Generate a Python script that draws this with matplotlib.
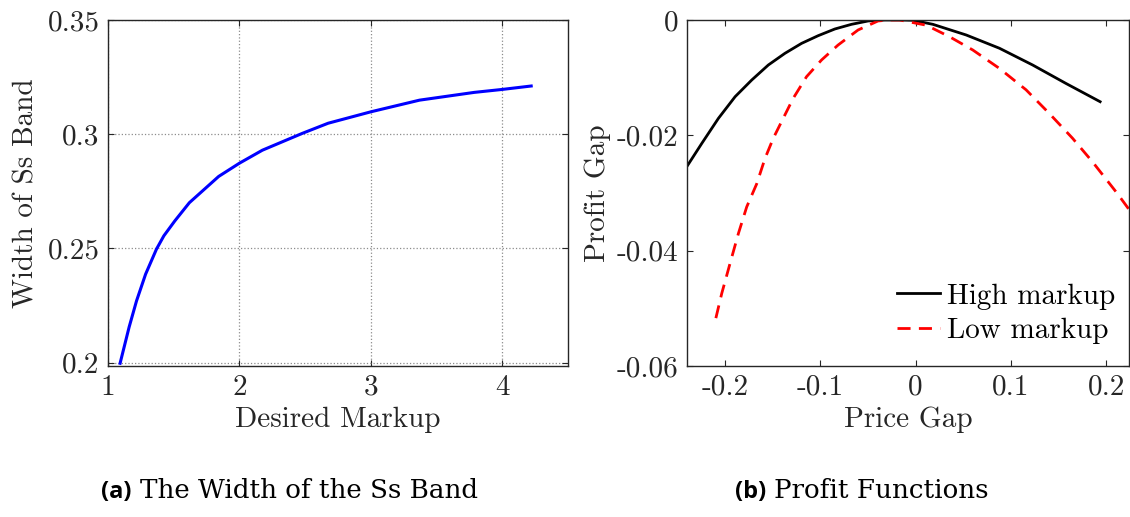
import matplotlib
matplotlib.use("Agg")
import matplotlib.pyplot as plt

# ---- Data: panel (a) ----
markup = [1.092, 1.161, 1.217, 1.286, 1.369, 1.425, 1.508, 1.619, 1.842, 2.0, 2.175,
          2.48, 2.675, 3.0, 3.37, 3.786, 4.0, 4.22]
width_ss = [0.1997, 0.2156, 0.227, 0.2387, 0.2497, 0.2555, 0.262, 0.270, 0.2815, 0.2873,
            0.293, 0.3004, 0.3048, 0.3098, 0.3149, 0.3183, 0.3196, 0.3211]

# ---- Data: panel (b) ----
gap_high = [-0.2405, -0.2244, -0.207, -0.1895, -0.172, -0.1546, -0.1372, -0.1197, -0.1023,
            -0.0848, -0.0673, -0.0499, -0.0325, -0.015, -0.0028, 0.0181, 0.0531, 0.088,
            0.1228, 0.1578, 0.1937]
profit_high = [-0.0255, -0.02138, -0.01705, -0.0133, -0.0104, -0.0078, -0.00578, -0.00405,
               -0.00272, -0.00156, -0.00075, -0.00017, 0.0, 0.0, -0.00005, -0.00075, -0.0026,
               -0.0049, -0.0078, -0.011, -0.01417]
gap_low = [-0.2097, -0.2035, -0.1948, -0.186, -0.1773, -0.1668, -0.1581, -0.1494, -0.139,
           -0.1285, -0.1145, -0.0988, -0.0814, -0.0604, -0.0395, -0.028, -0.0168, 0.0112,
           0.0356, 0.06, 0.088, 0.1159, 0.1403, 0.1647, 0.1857, 0.2118, 0.23]
profit_low = [-0.0517, -0.0474, -0.0422, -0.037, -0.0324, -0.0284, -0.024, -0.0205, -0.01705,
              -0.01358, -0.00983, -0.00694, -0.00434, -0.00173, -0.00017, 0.0, 0.0, -0.0009,
              -0.0029, -0.0052, -0.0084, -0.0121, -0.0162, -0.0205, -0.0246, -0.0301, -0.0342]

xticks_a = [1, 2, 3, 4]
xticklabels_a = ["1", "2", "3", "4"]
yticks_a = [0.2, 0.25, 0.3, 0.35]
yticklabels_a = ["0.2", "0.25", "0.3", "0.35"]
xticks_b = [-0.2, -0.1, 0.0, 0.1, 0.2]
xticklabels_b = ["-0.2", "-0.1", "0", "0.1", "0.2"]
yticks_b = [-0.06, -0.04, -0.02, 0.0]
yticklabels_b = ["-0.06", "-0.04", "-0.02", "0"]

plt.rcParams["font.family"] = ["cmr10", "DejaVu Serif"]
plt.rcParams["axes.formatter.use_mathtext"] = True
plt.rcParams["axes.unicode_minus"] = False

FS = 21
fig = plt.figure(figsize=(11.3, 5.17), dpi=100)
W, H = 1130, 517

def px_axes(x0, x1, ytop, ybot):
    return [x0 / W, 1 - ybot / H, (x1 - x0) / W, (ybot - ytop) / H]

ax1 = fig.add_axes(px_axes(108, 568, 20, 366))
ax2 = fig.add_axes(px_axes(687, 1129, 20, 366))

for ax in (ax1, ax2):
    for s in ax.spines.values():
        s.set_linewidth(1.0)
        s.set_color("#262626")
    ax.tick_params(direction="in", top=True, right=True, length=4.5, width=0.8,
                   colors="#262626", labelsize=FS, labelcolor="#262626", pad=6)

# Panel (a)
ax1.plot(markup, width_ss, color="#0000FF", lw=2.2)
ax1.set_xlim(1, 4.5)
ax1.set_ylim(0.1985, 0.35)
ax1.set_xticks(xticks_a)
ax1.set_xticklabels(xticklabels_a)
ax1.set_yticks(yticks_a)
ax1.set_yticklabels(yticklabels_a)
ax1.grid(True, linestyle=":", color="#8c8c8c", linewidth=0.9)
ax1.set_axisbelow(True)
ax1.set_xlabel("Desired Markup", fontsize=FS, color="#262626", labelpad=4)
ax1.set_ylabel("Width of Ss Band", fontsize=FS, color="#262626", labelpad=6)

# Panel (b)
ax2.plot(gap_high, profit_high, color="black", lw=2.0, label="High markup")
ax2.plot(gap_low, profit_low, color="#FF0000", lw=2.0, ls=(0, (4.7, 3.0)), label="Low markup")
ax2.set_xlim(-0.24, 0.224)
ax2.set_ylim(-0.06, 0.0)
ax2.set_xticks(xticks_b)
ax2.set_xticklabels(xticklabels_b)
ax2.set_yticks(yticks_b)
ax2.set_yticklabels(yticklabels_b)
ax2.set_xlabel("Price Gap", fontsize=FS, color="#262626", labelpad=4)
ax2.set_ylabel("Profit Gap", fontsize=FS, color="#262626", labelpad=4)
leg = ax2.legend(loc="lower right", bbox_to_anchor=(1.018, 0.0), frameon=False,
                 fontsize=FS, handlelength=1.45, handletextpad=0.25, labelspacing=0.28,
                 borderaxespad=0.35)

# Captions
fig.text(101 / W, 1 - 498 / H, "(a)", fontsize=17, fontweight="bold",
         family=["Open Sans"], va="baseline", ha="left")
fig.text(140 / W, 1 - 498 / H, "The Width of the Ss Band", fontsize=18.8,
         family=["DejaVu Serif"], va="baseline", ha="left")
fig.text(735 / W, 1 - 498 / H, "(b)", fontsize=17, fontweight="bold",
         family=["Open Sans"], va="baseline", ha="left")
fig.text(774 / W, 1 - 498 / H, "Profit Functions", fontsize=18.8,
         family=["DejaVu Serif"], va="baseline", ha="left")

fig.savefig("out.png", dpi=100)
